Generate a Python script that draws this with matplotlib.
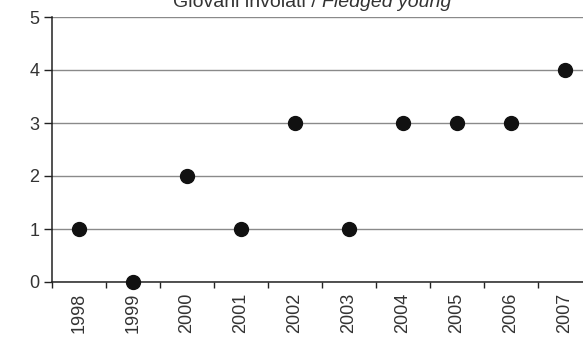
import numpy as np
import matplotlib.pyplot as plt

plt.rcParams['font.family'] = ['Liberation Sans', 'DejaVu Sans']

years = ['1998', '1999', '2000', '2001', '2002', '2003', '2004', '2005', '2006', '2007']
fledged = [1, 0, 2, 1, 3, 1, 3, 3, 3, 4]

fig = plt.figure(figsize=(5.83, 3.49), dpi=100)
ax = fig.add_axes([52 / 583, 1 - 282 / 349, 540 / 583, 265 / 349])

x = np.arange(len(years))
ax.plot(x, fledged, 'o', color='#111111', markersize=10, clip_on=False, zorder=3)

ax.set_xlim(-0.5, len(years) - 0.5)
ax.set_ylim(0, 5)
ax.set_yticks(range(0, 6))
ax.yaxis.grid(True, color='#8a8a8a', linewidth=1)
ax.set_axisbelow(True)

ax.set_xticks(x)
ax.set_xticklabels(years, rotation=90)
ax.set_xticks(np.arange(-0.5, len(years), 1), minor=True)
ax.tick_params(axis='x', which='major', length=0, labelsize=13, pad=8, colors='#333333')
ax.tick_params(axis='x', which='minor', length=4, width=1, color='#222222')
ax.tick_params(axis='y', length=6, width=1, labelsize=13, pad=3, colors='#222222', labelcolor='#333333')

for s in ['top', 'right']:
    ax.spines[s].set_visible(False)
for s in ['left', 'bottom']:
    ax.spines[s].set_color('#222222')
    ax.spines[s].set_linewidth(1.1)

fig.text(322 / 583, 1 - 7 / 349, 'Giovani involati / ', ha='right', va='baseline',
         fontsize=14, color='#333333')
fig.text(322 / 583, 1 - 7 / 349, 'Fledged young', ha='left', va='baseline',
         fontsize=14, color='#333333', style='italic')

fig.savefig('out.png', dpi=100)
